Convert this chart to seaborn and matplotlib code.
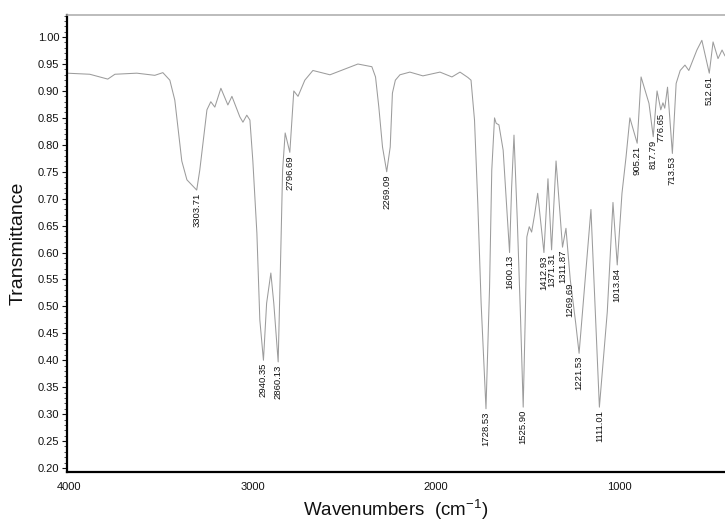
import matplotlib
matplotlib.use("Agg")
import matplotlib.pyplot as plt
import seaborn as sns
import pandas as pd
from matplotlib.ticker import MultipleLocator, FormatStrFormatter

# ---- data ----
wavenumber = [4011, 3886, 3788, 3749, 3630, 3532, 3488, 3450, 3423, 3395, 3385, 3357,
              3303.71, 3287, 3248, 3227, 3205, 3172, 3134, 3112, 3069, 3052, 3031, 3014,
              2998, 2976, 2960, 2940.35, 2923, 2900, 2884, 2860.13, 2846, 2836, 2822,
              2796.69, 2775, 2752, 2715, 2671, 2578, 2426, 2350, 2330, 2312, 2292,
              2269.09, 2250, 2238, 2222, 2197, 2143, 2072, 1979, 1914, 1870, 1827, 1810,
              1791, 1773, 1755, 1728.53, 1709, 1697, 1682, 1673, 1658, 1635, 1616,
              1600.13, 1589, 1576, 1558, 1540, 1525.90, 1515, 1506, 1493, 1480, 1464,
              1447, 1412.93, 1391, 1371.31, 1347, 1311.87, 1293, 1269.69, 1240, 1221.53,
              1157, 1111.01, 1068, 1037, 1013.84, 988, 966, 945, 905.21, 884, 841,
              817.79, 797, 776.65, 765, 755, 740, 713.53, 693, 671, 645, 624, 580, 553,
              512.61, 492, 465, 443, 427]
transmittance = [0.933, 0.931, 0.922, 0.931, 0.933, 0.929, 0.934, 0.920, 0.883, 0.800, 0.770, 0.735,
                 0.716, 0.753, 0.865, 0.880, 0.870, 0.905, 0.874, 0.890, 0.852, 0.842, 0.855, 0.846,
                 0.770, 0.636, 0.475, 0.400, 0.506, 0.562, 0.506, 0.397, 0.600, 0.753, 0.822,
                 0.786, 0.900, 0.890, 0.920, 0.938, 0.930, 0.950, 0.945, 0.926, 0.870, 0.796,
                 0.750, 0.796, 0.896, 0.920, 0.930, 0.935, 0.928, 0.935, 0.926, 0.935, 0.925, 0.920,
                 0.846, 0.690, 0.506, 0.310, 0.536, 0.753, 0.850, 0.840, 0.837, 0.790, 0.686,
                 0.600, 0.720, 0.818, 0.660, 0.475, 0.313, 0.475, 0.629, 0.648, 0.638, 0.670,
                 0.710, 0.600, 0.737, 0.605, 0.770, 0.610, 0.645, 0.550, 0.469, 0.413,
                 0.680, 0.313, 0.490, 0.693, 0.577, 0.710, 0.777, 0.850, 0.803, 0.926, 0.877,
                 0.815, 0.900, 0.865, 0.878, 0.868, 0.907, 0.784, 0.914, 0.938, 0.948, 0.938, 0.976, 0.994,
                 0.933, 0.991, 0.960, 0.976, 0.965]
peak_labels = [3303.71, 2940.35, 2860.13, 2796.69, 2269.09, 1728.53, 1600.13, 1525.90,
               1412.93, 1371.31, 1311.87, 1269.69, 1221.53, 1111.01, 1013.84, 905.21,
               817.79, 776.65, 713.53, 512.61]
y_ticks = [0.20, 0.25, 0.30, 0.35, 0.40, 0.45, 0.50, 0.55, 0.60, 0.65, 0.70, 0.75,
           0.80, 0.85, 0.90, 0.95, 1.00]
x_ticks = [4000, 3000, 2000, 1000]

df = pd.DataFrame({"wn": wavenumber, "T": transmittance})

sns.set_theme(style="white")
plt.rcParams["font.family"] = ["Liberation Sans", "DejaVu Sans"]
plt.rcParams["mathtext.fontset"] = "custom"
plt.rcParams["mathtext.rm"] = "Liberation Sans"

fig = plt.figure(figsize=(7.25, 5.24), dpi=100)
ax = fig.add_axes([67 / 725, 52 / 524, 658 / 725, 457 / 524])

sns.lineplot(data=df, x="wn", y="T", sort=False, estimator=None,
             color="#9c9c9c", linewidth=0.75, ax=ax)

lookup = dict(zip(wavenumber, transmittance))
for p in peak_labels:
    ax.annotate(f"{p:.2f}", xy=(p, lookup[p]), xytext=(0, -2),
                textcoords="offset points", rotation=90, ha="center", va="top",
                fontsize=6.8, color="#111111")

ax.set_xlim(4010, 427)
ax.set_ylim(0.1926, 1.041)
ax.set_xticks(x_ticks)
ax.set_xticklabels([str(t) for t in x_ticks])
ax.set_yticks(y_ticks)
ax.yaxis.set_major_formatter(FormatStrFormatter("%.2f"))
ax.yaxis.set_minor_locator(MultipleLocator(0.01))

ax.tick_params(axis="x", length=0, pad=7, labelsize=8, colors="#111111")
ax.tick_params(axis="y", which="major", left=True, length=3.5, width=0.8, pad=2,
               labelsize=8, colors="#111111")
ax.tick_params(axis="y", which="minor", left=True, length=2, width=0.6, colors="#333333")

ax.set_xlabel("Wavenumbers  (cm$^{-1}$)", fontsize=13.5, labelpad=4, color="#111111")
ax.set_ylabel("Transmittance", fontsize=14, labelpad=8, color="#111111")

for s in ["left", "bottom"]:
    ax.spines[s].set_color("black")
    ax.spines[s].set_linewidth(1.6)
ax.spines["top"].set_color("#b0b0b0")
ax.spines["top"].set_linewidth(1.2)
ax.spines["right"].set_visible(False)

fig.savefig("out.png", dpi=100)
